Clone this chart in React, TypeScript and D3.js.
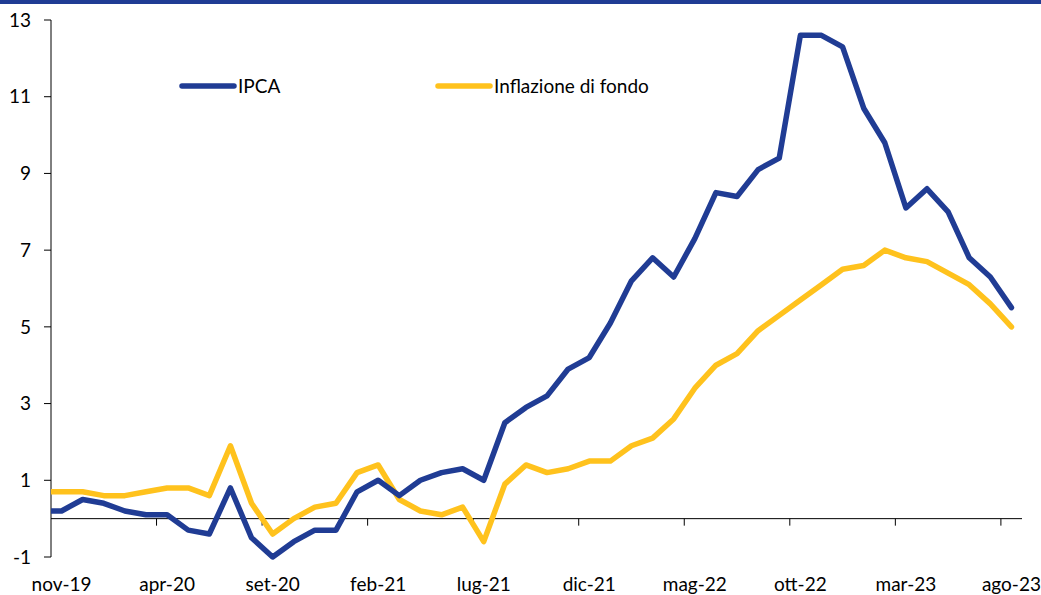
import { useEffect, useRef } from "react";
import * as d3 from "d3";

// Months shown on the axis (the first one, ott-19, sits just outside the plot and is clipped)
const months = [
  "ott-19", "nov-19", "dic-19", "gen-20", "feb-20", "mar-20", "apr-20", "mag-20", "giu-20",
  "lug-20", "ago-20", "set-20", "ott-20", "nov-20", "dic-20", "gen-21", "feb-21", "mar-21",
  "apr-21", "mag-21", "giu-21", "lug-21", "ago-21", "set-21", "ott-21", "nov-21", "dic-21",
  "gen-22", "feb-22", "mar-22", "apr-22", "mag-22", "giu-22", "lug-22", "ago-22", "set-22",
  "ott-22", "nov-22", "dic-22", "gen-23", "feb-23", "mar-23", "apr-23", "mag-23", "giu-23",
  "lug-23", "ago-23",
];

const ipca = [
  0.2, 0.2, 0.5, 0.4, 0.2, 0.1, 0.1, -0.3, -0.4, 0.8, -0.5, -1.0, -0.6, -0.3, -0.3, 0.7,
  1.0, 0.6, 1.0, 1.2, 1.3, 1.0, 2.5, 2.9, 3.2, 3.9, 4.2, 5.1, 6.2, 6.8, 6.3, 7.3, 8.5, 8.4,
  9.1, 9.4, 12.6, 12.6, 12.3, 10.7, 9.8, 8.1, 8.6, 8.0, 6.8, 6.3, 5.5,
];

const core = [
  0.7, 0.7, 0.7, 0.6, 0.6, 0.7, 0.8, 0.8, 0.6, 1.9, 0.4, -0.4, 0.0, 0.3, 0.4, 1.2, 1.4,
  0.5, 0.2, 0.1, 0.3, -0.6, 0.9, 1.4, 1.2, 1.3, 1.5, 1.5, 1.9, 2.1, 2.6, 3.4, 4.0, 4.3,
  4.9, 5.3, 5.7, 6.1, 6.5, 6.6, 7.0, 6.8, 6.7, 6.4, 6.1, 5.6, 5.0,
];

const yTicks = [-1, 1, 3, 5, 7, 9, 11, 13];
const xTickLabels = ["nov-19", "apr-20", "set-20", "feb-21", "lug-21", "dic-21", "mag-22", "ott-22", "mar-23", "ago-23"];

const series = [
  { name: "IPCA", values: ipca, color: "#203c94" },
  { name: "Inflazione di fondo", values: core, color: "#ffc21d" },
];

const width = 1041;
const height = 595;
const PLOT = { left: 51, right: 1022, top: 20, bottom: 557 };
const FONT = "Lato, 'Liberation Sans', sans-serif";

export default function App() {
  const svgRef = useRef<SVGSVGElement | null>(null);

  useEffect(() => {
    const svg = d3.select(svgRef.current);
    svg.selectAll("*").remove();

    // index 0 = nov-19; ott-19 gets index -1
    const x = d3.scaleLinear().domain([-0.5, months.length - 1.5]).range([PLOT.left, PLOT.right]);
    const y = d3.scaleLinear().domain([-1, 13]).range([PLOT.bottom, PLOT.top]);

    // top banner line
    svg.append("rect").attr("x", 0).attr("y", 0).attr("width", width).attr("height", 4).attr("fill", "#203c94");

    svg
      .append("clipPath")
      .attr("id", "plot-clip")
      .append("rect")
      .attr("x", PLOT.left)
      .attr("y", 0)
      .attr("width", PLOT.right - PLOT.left + 10)
      .attr("height", height);

    // y axis
    const yAxis = svg.append("g").attr("transform", `translate(${PLOT.left},0)`);
    yAxis.append("line").attr("y1", PLOT.top).attr("y2", PLOT.bottom).attr("stroke", "#000");
    yTicks.forEach((t) => {
      yAxis.append("line").attr("x1", -7).attr("x2", 0).attr("y1", y(t)).attr("y2", y(t)).attr("stroke", "#000");
      yAxis
        .append("text")
        .attr("x", -20)
        .attr("y", y(t))
        .attr("dy", "0.35em")
        .attr("text-anchor", "end")
        .attr("font-family", FONT)
        .attr("font-size", 19)
        .attr("fill", "#000")
        .text(t);
    });

    // x axis at zero
    const xAxis = svg.append("g").attr("transform", `translate(0,${y(0)})`);
    xAxis.append("line").attr("x1", PLOT.left).attr("x2", PLOT.right).attr("stroke", "#000");
    xTickLabels.forEach((label, k) => {
      const i = months.indexOf(label) - 1;
      if (k > 0) {
        const tx = x(i - 0.5);
        xAxis.append("line").attr("x1", tx).attr("x2", tx).attr("y1", 0).attr("y2", 7).attr("stroke", "#000");
      }
    });
    svg
      .append("g")
      .selectAll("text")
      .data(xTickLabels)
      .join("text")
      .attr("x", (d) => x(months.indexOf(d) - 1))
      .attr("y", 591)
      .attr("text-anchor", "middle")
      .attr("font-family", FONT)
      .attr("font-size", 19)
      .attr("fill", "#000")
      .text((d) => d);

    // lines
    const line = d3
      .line<number>()
      .x((_, i) => x(i - 1))
      .y((d) => y(d));

    const lines = svg.append("g").attr("clip-path", "url(#plot-clip)");
    [...series].reverse().forEach((s) => {
      lines
        .append("path")
        .attr("d", line(s.values))
        .attr("fill", "none")
        .attr("stroke", s.color)
        .attr("stroke-width", 5.5)
        .attr("stroke-linejoin", "round")
        .attr("stroke-linecap", "round");
    });

    // legend
    const legendX = [182, 438];
    series.forEach((s, k) => {
      const g = svg.append("g").attr("transform", `translate(${legendX[k]},86)`);
      g.append("line")
        .attr("x1", 0)
        .attr("x2", 52)
        .attr("stroke", s.color)
        .attr("stroke-width", 5.5)
        .attr("stroke-linecap", "round");
      g.append("text")
        .attr("x", 56)
        .attr("dy", "0.35em")
        .attr("font-family", FONT)
        .attr("font-size", 19)
        .attr("fill", "#000")
        .text(s.name);
    });
  }, []);

  return (
    <div style={{ position: "absolute", left: 0, top: 0 }}>
      <svg width={width} height={height} ref={svgRef} style={{ display: "block", background: "#fff" }} />
    </div>
  );
}
